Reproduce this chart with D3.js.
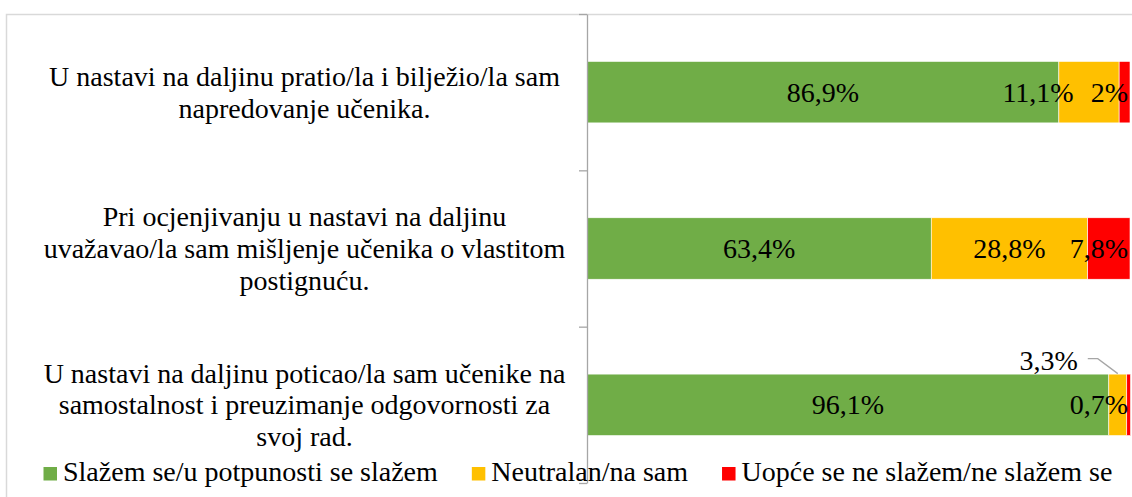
<!DOCTYPE html>
<html>
<head>
<meta charset="utf-8">
<script src="https://cdn.jsdelivr.net/npm/d3@7"></script>
<style>
  html, body { margin: 0; padding: 0; background: #fff; }
  svg { display: block; font-family: "Liberation Serif", "Times New Roman", serif; }
</style>
</head>
<body>
<svg width="1132" height="497"></svg>
<script>
// survey statements, already wrapped into lines as in the original
const categoryLines = [
  ['U nastavi na daljinu pratio/la i bilježio/la sam', 'napredovanje učenika.'],
  ['Pri ocjenjivanju u nastavi na daljinu', 'uvažavao/la sam mišljenje učenika o vlastitom', 'postignuću.'],
  ['U nastavi na daljinu poticao/la sam učenike na', 'samostalnost i preuzimanje odgovornosti za', 'svoj rad.']
];
const seriesNames = ['Slažem se/u potpunosti se slažem', 'Neutralan/na sam', 'Uopće se ne slažem/ne slažem se'];
const agree = [86.9, 63.4, 96.1];
const neutral = [11.1, 28.8, 3.3];
const disagree = [2, 7.8, 0.7];

const colors = ['#70ad47', '#ffc000', '#ff0000'];
const fontSize = 28;
const svg = d3.select('svg');

const rows = categoryLines.map((lines, i) => ({
  idx: i, lines: lines, s0: agree[i], s1: neutral[i], s2: disagree[i]
}));
const keys = ['s0', 's1', 's2'];
const stacked = d3.stack().keys(keys)(rows);

const plotLeft = 587, plotRight = 1130, plotTop = 14, plotBottom = 483;
const x = d3.scaleLinear().domain([0, 100]).range([plotLeft, plotRight]);
const y = d3.scaleBand()
    .domain(d3.range(rows.length))
    .range([plotTop, plotBottom])
    .paddingInner(0.607)
    .paddingOuter(0.3035);

// chart frame (cut by the window on the right and bottom)
svg.append('rect')
    .attr('x', 6.5).attr('y', 14.5)
    .attr('width', 1200).attr('height', 600)
    .attr('fill', 'none')
    .attr('stroke', '#d9d9d9')
    .attr('stroke-width', 1.5);

// bars
svg.append('g')
    .selectAll('g')
    .data(stacked)
    .join('g')
    .attr('fill', (d, i) => colors[i])
    .selectAll('rect')
    .data(d => d)
    .join('rect')
    .attr('x', d => x(d[0]))
    .attr('y', (d, i) => y(i))
    .attr('width', d => x(d[1]) - x(d[0]))
    .attr('height', y.bandwidth())
    .attr('stroke', '#fff')
    .attr('stroke-width', 0.6);

// category axis: ticks sit on the band boundaries
const edges = d3.scaleLinear().domain([0, rows.length]).range([plotTop, plotBottom]);
const axisG = svg.append('g')
    .attr('transform', `translate(${plotLeft},0)`)
    .call(d3.axisLeft(edges)
        .tickValues(d3.range(rows.length + 1))
        .tickFormat('')
        .tickSize(8)
        .tickSizeOuter(0));
axisG.selectAll('path, line').attr('stroke', '#a6a6a6').attr('stroke-width', 1.3);

// category labels
const lineH = 31.8;
const catG = svg.append('g')
    .attr('font-size', fontSize)
    .attr('text-anchor', 'middle')
    .attr('fill', '#000');
rows.forEach((r, i) => {
  const cy = y(i) + y.bandwidth() / 2;
  const n = r.lines.length;
  catG.append('text')
      .selectAll('tspan')
      .data(r.lines)
      .join('tspan')
      .attr('x', 304.5)
      .attr('y', (d, j) => cy + (j - (n - 1) / 2) * lineH + 9.5)
      .text(d => d);
});

// data labels
const fmt = v => String(v).replace('.', ',') + '%';
const callout = { row: 2, series: 1 };
const labelG = svg.append('g').attr('font-size', fontSize).attr('fill', '#000');
const rightLimit = plotRight - 2;
const labelGap = 17;

rows.forEach((r, i) => {
  const cy = y(i) + y.bandwidth() / 2;
  const items = stacked.map((s, k) => {
    const d = s[i];
    const t = labelG.append('text').attr('y', cy + 9.5).text(fmt(d.data[keys[k]]));
    const w = t.node().getComputedTextLength();
    return { k: k, t: t, w: w, cx: (x(d[0]) + x(d[1])) / 2, seg: d };
  });
  let limit = rightLimit;
  for (let j = items.length - 1; j >= 0; j--) {
    const it = items[j];
    if (i === callout.row && it.k === callout.series) continue;
    let left = it.cx - it.w / 2;
    if (left + it.w > limit) left = limit - it.w;
    it.t.attr('x', left);
    limit = left - labelGap;
  }
  // label moved above the bar with a leader line
  items.filter(it => i === callout.row && it.k === callout.series).forEach(it => {
    const top = y(i);
    const tx = it.cx - 40;
    it.t.attr('x', tx - it.w).attr('y', top - 4);
    svg.append('path')
        .attr('d', d3.line()([[tx + 10, top - 15.5], [tx + 20, top - 15.5], [it.cx, top - 0.5]]))
        .attr('fill', 'none')
        .attr('stroke', '#a6a6a6')
        .attr('stroke-width', 1.3);
  });
});

// legend
const legG = svg.append('g').attr('font-size', fontSize).attr('fill', '#000');
let lx = 43.5;
seriesNames.forEach((name, k) => {
  legG.append('rect')
      .attr('x', lx).attr('y', 467)
      .attr('width', 13.5).attr('height', 13.5)
      .attr('fill', colors[k]);
  const t = legG.append('text')
      .attr('x', lx + 19.5)
      .attr('y', 480.5)
      .text(name);
  lx = lx + 19.5 + t.node().getComputedTextLength() + 34;
});
</script>
</body>
</html>
